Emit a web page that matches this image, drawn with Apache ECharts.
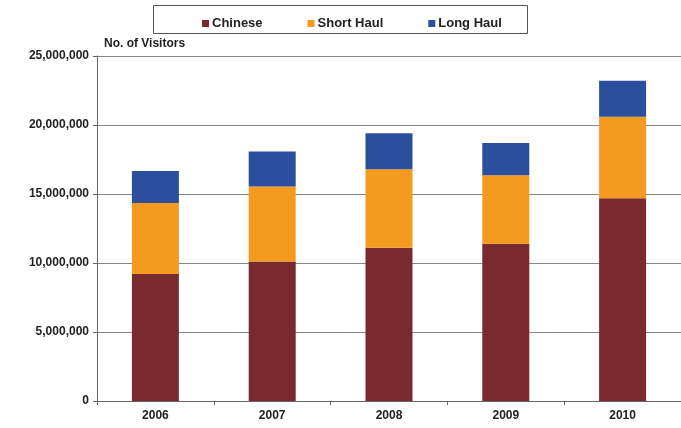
<!DOCTYPE html>
<html>
<head>
<meta charset="utf-8">
<script src="https://cdn.jsdelivr.net/npm/echarts@6/dist/echarts.min.js"></script>
<style>html,body{margin:0;padding:0;background:#fff}#c{width:681px;height:428px}</style>
</head>
<body>
<div id="c"></div>
<script>
// Visitor arrivals by year, stacked by origin group
const years = ['2006', '2007', '2008', '2009', '2010'];
const chinese = [9200000, 10100000, 11100000, 11400000, 14700000];
const shortHaul = [5150000, 5440000, 5700000, 4950000, 5900000];
const longHaul = [2320000, 2540000, 2600000, 2340000, 2600000];
const yTicks = [0, 5000000, 10000000, 15000000, 20000000, 25000000];

const font = 'Arial, "Liberation Sans", sans-serif';
const chart = echarts.init(document.getElementById('c'));

function fmt(v) { return v.toLocaleString('en-US'); }

chart.setOption({
  animation: false,
  backgroundColor: '#fff',
  graphic: [{
    type: 'rect',
    shape: { x: 153.5, y: 5.5, width: 374, height: 28 },
    style: { fill: 'none', stroke: '#555', lineWidth: 1 }
  }, {
    type: 'text',
    left: 104, top: 38,
    style: { text: 'No. of Visitors', font: 'bold 12px ' + font, fill: '#222' }
  }],
  legend: {
    left: 197, top: 12,
    itemWidth: 7, itemHeight: 7, itemGap: 45,
    icon: 'rect',
    textStyle: { fontFamily: font, fontSize: 13, fontWeight: 'bold', color: '#222', padding: [0, 0, 0, -2] },
    data: ['Chinese', 'Short Haul', 'Long Haul']
  },
  // plot area runs slightly past the right edge of the canvas
  grid: { left: 97, width: 585, top: 56, bottom: 27, containLabel: false },
  xAxis: {
    type: 'category',
    data: years,
    axisLine: { lineStyle: { color: '#666', width: 1 } },
    axisTick: { show: true, lineStyle: { color: '#666' }, length: 4 },
    axisLabel: { fontFamily: font, fontSize: 12, fontWeight: 'bold', color: '#222', margin: 9 }
  },
  yAxis: {
    type: 'value',
    min: yTicks[0], max: yTicks[yTicks.length - 1], interval: 5000000,
    axisLine: { show: true, lineStyle: { color: '#666', width: 1 } },
    axisTick: { show: true, length: 4, lineStyle: { color: '#666' } },
    splitLine: { lineStyle: { color: '#888', width: 1 } },
    axisLabel: { fontFamily: font, fontSize: 12, fontWeight: 'bold', color: '#222', margin: 8, formatter: fmt }
  },
  series: [
    { name: 'Chinese', type: 'bar', stack: 'v', data: chinese, barWidth: 47, itemStyle: { color: '#7a2a2f' } },
    { name: 'Short Haul', type: 'bar', stack: 'v', data: shortHaul, itemStyle: { color: '#f39a1f' } },
    { name: 'Long Haul', type: 'bar', stack: 'v', data: longHaul, itemStyle: { color: '#2b4f9c' } }
  ]
});
</script>
</body>
</html>
